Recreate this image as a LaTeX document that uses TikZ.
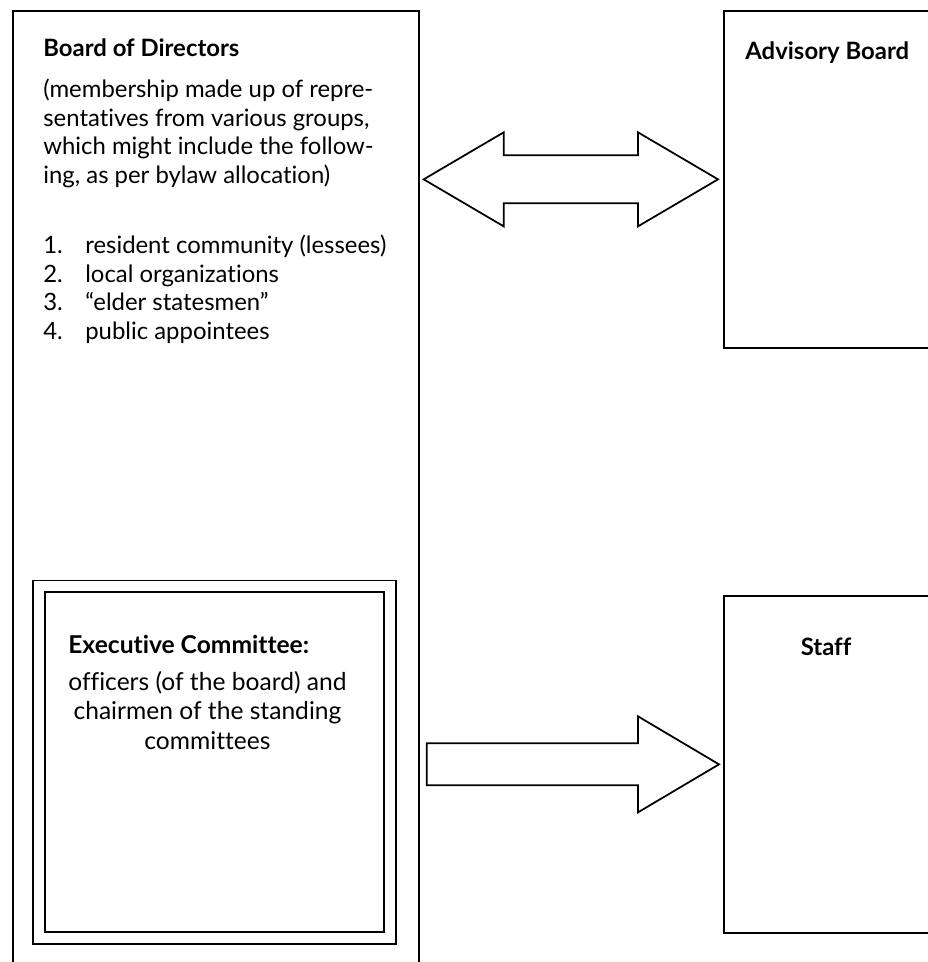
\documentclass[tikz,border=0pt]{standalone}
\usepackage{fontspec}
\setmainfont{Lato}[Ligatures=NoCommon]
\usetikzlibrary{calc}
\newcommand\txtsize{\fontsize{13.6}{16.2}\selectfont}
\newcommand\exsize{\fontsize{14}{16.8}\selectfont}
\tikzset{
  box/.style={draw, line width=1pt, rectangle, anchor=north west, inner sep=0pt},
  head/.style={anchor=base west, inner sep=0pt, font=\txtsize\bfseries},
  body/.style={anchor=north west, inner sep=0pt, align=left, font=\txtsize},
  blockarrow/.style={draw, line width=1pt, line join=miter},
}
\newcommand\itemno[1]{\makebox[0.84cm][l]{#1}}
\begin{document}
\begin{tikzpicture}[x=0.02cm, y=-0.02cm]
        \useasboundingbox (0,0) rectangle (928,962);

        % boxes
        \node[box, minimum width=8.12cm, minimum height=19.6cm] (board) at (12,10) {};
        \node[box, minimum width=4.5cm, minimum height=6.74cm] (adv) at (723,10) {};
        \node[box, minimum width=4.5cm, minimum height=6.74cm] (staff) at (723,595) {};
        \node[box, double, double distance=5.8pt, minimum width=7.03cm, minimum height=7.03cm] (exec) at (38,585.5) {};

        % texts
        \node[head] (boardtitle) at (43,57) {Board of Directors};
        \node[body] (boardtext) at (43,79) {(membership made up of repre-\\sentatives from various groups,\\which might include the follow-\\ing, as per bylaw allocation)};
        \node[body] (boardlist) at (43,235) {\itemno{1.}resident community (lessees)\\\itemno{2.}local organizations\\\itemno{3.}``elder statesmen''\\\itemno{4.}public appointees};
        \node[head] (advtitle) at (745,60) {Advisory Board};
        \node[head, font=\exsize\bfseries] (exectitle) at (68,653) {Executive Committee:};
        \node[body, align=center, font=\exsize] (exectext) at (68,671) {officers (of the board) and\\chairmen of the standing\\committees};
        \node[head, anchor=base] (stafftitle) at (826,655) {Staff};

        % block arrows
        \coordinate (dl) at ($(board.east |- adv.west)+(4,0)$);
        \coordinate (dr) at ($(adv.west)+(-5,0)$);
        \draw[blockarrow] (dl) -- ++(80,-47) -- ++(0,23) -- ($(dr)+(-80,-24)$) -- ++(0,-23) -- (dr)
            -- ++(-80,47) -- ++(0,-23) -- ($(dl)+(80,24)$) -- ++(0,23) -- cycle;
        \coordinate (sl) at ($(board.east |- staff.west)+(7,0)$);
        \coordinate (sr) at ($(staff.west)+(-4,0)$);
        \draw[blockarrow] ($(sl)+(0,-21)$) -- ($(sr)+(-81,-21)$) -- ++(0,-27) -- (sr)
            -- ++(-81,48) -- ++(0,-27) -- ($(sl)+(0,21)$) -- cycle;
    \end{tikzpicture}
\end{document}
